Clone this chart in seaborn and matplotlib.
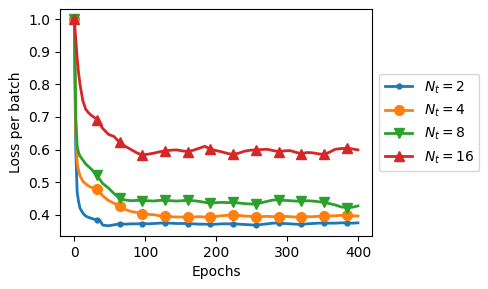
import matplotlib
matplotlib.use("Agg")
import matplotlib.pyplot as plt
import seaborn as sns
import pandas as pd

epochs = [0, 2, 4, 6, 8, 12, 16, 20, 24, 28, 32, 36, 40,
          48, 56, 64, 72, 80, 88, 96, 104, 112, 120, 128, 136, 144, 152,
          160, 168, 176, 184, 192, 200, 208, 216, 224, 232, 240, 248, 256,
          264, 272, 280, 288, 296, 304, 312, 320, 328, 336, 344, 352, 360,
          368, 376, 384, 392, 400]

loss_nt2 = [1.0, 0.60, 0.47, 0.44, 0.42, 0.405, 0.396, 0.392, 0.389, 0.386, 0.385, 0.383, 0.368,
            0.366, 0.369, 0.372, 0.371, 0.372, 0.372, 0.373, 0.372, 0.373, 0.374, 0.375, 0.374, 0.373, 0.373,
            0.373, 0.372, 0.371, 0.371, 0.370, 0.371, 0.372, 0.372, 0.372, 0.371, 0.370, 0.369, 0.368,
            0.370, 0.372, 0.374, 0.375, 0.373, 0.372, 0.371, 0.370, 0.372, 0.373, 0.374, 0.375, 0.374,
            0.374, 0.375, 0.375, 0.374, 0.375]

loss_nt4 = [1.0, 0.66, 0.56, 0.535, 0.52, 0.503, 0.495, 0.488, 0.484, 0.481, 0.478, 0.470, 0.458,
            0.444, 0.435, 0.426, 0.416, 0.410, 0.407, 0.403, 0.401, 0.400, 0.397, 0.395, 0.394, 0.393, 0.393,
            0.393, 0.393, 0.394, 0.393, 0.393, 0.395, 0.397, 0.398, 0.399, 0.398, 0.396, 0.395, 0.394,
            0.394, 0.395, 0.394, 0.394, 0.395, 0.394, 0.393, 0.393, 0.394, 0.394, 0.395, 0.395, 0.396,
            0.397, 0.398, 0.398, 0.397, 0.396]

loss_nt8 = [1.0, 0.70, 0.61, 0.590, 0.580, 0.568, 0.556, 0.548, 0.540, 0.530, 0.521, 0.508, 0.496,
            0.482, 0.465, 0.450, 0.445, 0.443, 0.444, 0.443, 0.443, 0.442, 0.444, 0.444, 0.443, 0.442, 0.443,
            0.444, 0.443, 0.441, 0.438, 0.435, 0.437, 0.438, 0.437, 0.438, 0.436, 0.434, 0.433, 0.433,
            0.437, 0.441, 0.445, 0.446, 0.444, 0.443, 0.442, 0.441, 0.443, 0.442, 0.440, 0.438, 0.434,
            0.430, 0.424, 0.422, 0.423, 0.427]

loss_nt16 = [1.0, 0.94, 0.88, 0.835, 0.80, 0.750, 0.724, 0.713, 0.705, 0.699, 0.692, 0.678, 0.665,
             0.647, 0.640, 0.622, 0.610, 0.600, 0.590, 0.583, 0.586, 0.589, 0.593, 0.596, 0.598, 0.599, 0.596,
             0.594, 0.598, 0.604, 0.610, 0.601, 0.597, 0.593, 0.588, 0.585, 0.589, 0.595, 0.598, 0.599,
             0.600, 0.601, 0.597, 0.594, 0.596, 0.597, 0.592, 0.587, 0.591, 0.590, 0.587, 0.585, 0.592,
             0.601, 0.603, 0.604, 0.602, 0.599]

series = [
    (r'$N_t = 2$', loss_nt2, '.', 'C0'),
    (r'$N_t = 4$', loss_nt4, 'o', 'C1'),
    (r'$N_t = 8$', loss_nt8, 'v', 'C2'),
    (r'$N_t = 16$', loss_nt16, '^', 'C3'),
]

# a marker every 32 epochs
mark_idx = [i for i, e in enumerate(epochs) if e % 32 == 0]

fig, ax = plt.subplots(figsize=(4.89, 2.89), dpi=100)
fig.subplots_adjust(left=0.123, right=0.761, top=0.969, bottom=0.183)

for label, values, marker, color in series:
    df = pd.DataFrame({'Epochs': epochs, 'Loss': values})
    sns.lineplot(data=df, x='Epochs', y='Loss', ax=ax, label=label, color=color,
                 marker=marker, markevery=mark_idx, markersize=7,
                 markeredgecolor=color, markeredgewidth=1, linewidth=2)

ax.set_xlabel('Epochs')
ax.set_ylabel('Loss per batch')
ax.set_xticks([0, 100, 200, 300, 400])
ax.set_yticks([0.4, 0.5, 0.6, 0.7, 0.8, 0.9, 1.0])
ax.legend(loc='center left', bbox_to_anchor=(1.0, 0.5))

plt.savefig('out.png', dpi=100)
